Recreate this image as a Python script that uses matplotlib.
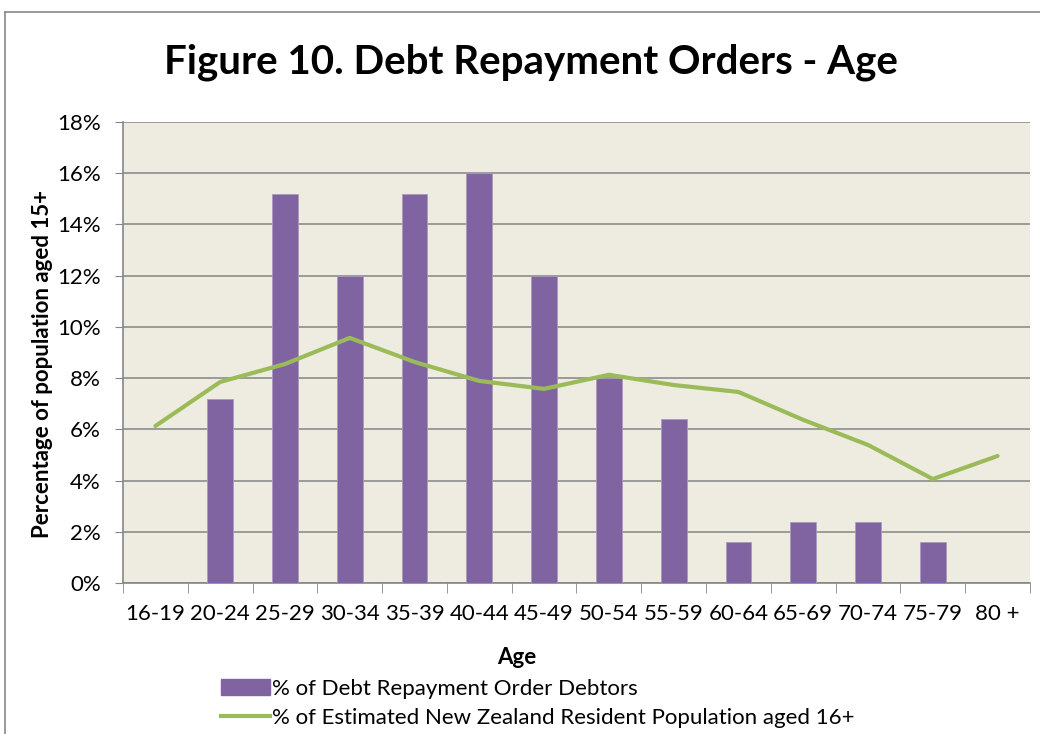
import numpy as np
import matplotlib.pyplot as plt
from matplotlib.lines import Line2D
from matplotlib.patches import Patch

ages = ['16-19', '20-24', '25-29', '30-34', '35-39', '40-44', '45-49',
        '50-54', '55-59', '60-64', '65-69', '70-74', '75-79', '80 +']
debtors = [0, 7.2, 15.2, 12.0, 15.2, 16.0, 12.0, 8.0, 6.4, 1.6, 2.4, 2.4, 1.6, 0]
population = [6.13, 7.85, 8.55, 9.57, 8.63, 7.89, 7.58, 8.13, 7.73, 7.46,
              6.37, 5.39, 4.06, 4.96]
yticks = [0, 2, 4, 6, 8, 10, 12, 14, 16, 18]

plt.rcParams['font.family'] = ['Lato', 'DejaVu Sans']

fig = plt.figure(figsize=(10.4, 7.34), dpi=100)
ax = fig.add_axes([123/1040, 1-583/734, (1030-123)/1040, (583-122)/734])
ax.set_facecolor('#EEECE1')

x = np.arange(len(ages))
ax.bar(x, debtors, width=0.4, color='#8064A2', edgecolor='#A99BBD', linewidth=0.6, zorder=3)
ax.plot(x, population, color='#9BBB59', linewidth=3, solid_capstyle='round', zorder=4)

ax.set_xlim(-0.5, len(ages) - 0.5)
ax.set_ylim(0, 18)
ax.set_yticks(yticks)
ax.set_yticklabels([f'{v}%' for v in yticks], fontsize=16)
ax.set_xticks(x)
ax.set_xticklabels(ages, fontsize=16)
ax.set_xticks(np.arange(-0.5, len(ages)), minor=True)
ax.tick_params(axis='x', which='major', length=0, pad=15)
ax.tick_params(axis='x', which='minor', length=7, color='#868686', direction='out')
ax.tick_params(axis='y', length=6, color='#868686', pad=10)
ax.grid(axis='y', color='#8C8C8C', linewidth=1.2, zorder=1)
for s in ['top', 'right']:
    ax.spines[s].set_visible(False)
for s in ['left', 'bottom']:
    ax.spines[s].set_color('#868686')
    ax.spines[s].set_linewidth(1.2)

fig.text(531/1040, 1-62/734, 'Figure 10. Debt Repayment Orders - Age', ha='center', va='center',
         fontsize=29, fontweight='bold')
fig.text(517/1040, 1-658/734, 'Age', ha='center', va='center', fontsize=16, fontweight='bold')
fig.text(43/1040, 1-364/734, 'Percentage of population aged 15+', ha='center', va='center',
         rotation=90, fontsize=16, fontweight='bold')

handles = [Patch(facecolor='#8064A2', edgecolor='#8064A2'),
           Line2D([0], [0], color='#9BBB59', linewidth=3)]
labels = ['% of Debt Repayment Order Debtors',
          '% of Estimated New Zealand Resident Population aged 16+']
fig.legend(handles, labels, loc='upper left', bbox_to_anchor=(212/1040, 1-670/734),
           frameon=False, fontsize=16, handlelength=2.2, handletextpad=0.1,
           labelspacing=0.4, borderaxespad=0)

# outer chart border
fig.add_artist(Line2D([5/1040, 5/1040], [0, 1-12/734], color='#878787', linewidth=1.2))
fig.add_artist(Line2D([5/1040, 1], [1-12/734, 1-12/734], color='#878787', linewidth=1.2))

fig.savefig('out.png', dpi=100)
